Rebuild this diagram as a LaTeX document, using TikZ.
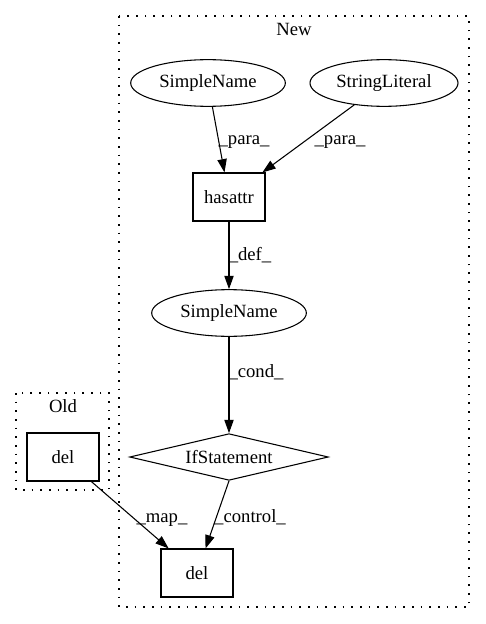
\documentclass[tikz,border=0pt]{standalone}
\usepackage{fontspec}
\setmainfont{Liberation Serif}
\usetikzlibrary{shapes.geometric,arrows.meta}
\tikzset{
  every node/.style={font=\fontsize{14pt}{16pt}\selectfont},
  ell/.style={draw, ellipse, line width=0.8pt, inner sep=0pt, minimum height=35pt},
  boxnode/.style={draw, rectangle, line width=0.8pt, inner sep=0pt, minimum width=54pt, minimum height=36pt},
  dia/.style={draw, diamond, line width=0.8pt, inner sep=0pt, aspect=4.26, minimum width=149pt, minimum height=35pt},
  edge/.style={draw, line width=0.8pt, -{Triangle[length=10pt,width=7pt]}},
  cluster/.style={draw, line width=1pt, dash pattern=on 1.2pt off 5.3pt},
  lbl/.style={anchor=base, inner sep=0pt}
}
\begin{document}
\begin{tikzpicture}[x=0.75pt,y=-0.75pt]
\useasboundingbox (0,0) rectangle (485,624);
% clusters
\draw[cluster] (119,16) rectangle (469,607);
\node[lbl] (newlbl) at (294,36) {New};
\draw[cluster] (16,393) rectangle (109,490);
\node[lbl] (oldlbl) at (63,412) {Old};
% nodes
\node[ell, minimum width=116pt] (sn1) at (208,83) {SimpleName};
\node[ell, minimum width=111pt] (sl) at (384,83) {StringLiteral};
\node[boxnode] (has) at (229,197) {hasattr};
\node[ell, minimum width=116pt] (sn2) at (229,313) {SimpleName};
\node[dia] (ifs) at (229,457) {IfStatement};
\node[boxnode] (delnew) at (197,573) {del};
\node[boxnode] (delold) at (63,457) {del};
% edges
\draw[edge] (sn1) -- (has);
\draw[edge] (sl) -- (has);
\draw[edge] (has) -- (sn2);
\draw[edge] (sn2) -- (ifs);
\draw[edge] (ifs.south) -- (delnew);
\draw[edge] (delold) -- (delnew);
% edge labels
\node[lbl] (l1) at (244,145) {\_para\_};
\node[lbl] (l2) at (340,145) {\_para\_};
\node[lbl] (l3) at (250,260) {\_def\_};
\node[lbl] (l4) at (256,377) {\_cond\_};
\node[lbl] (l5) at (250,522) {\_control\_};
\node[lbl] (l6) at (162,522) {\_map\_};
\end{tikzpicture}
\end{document}
